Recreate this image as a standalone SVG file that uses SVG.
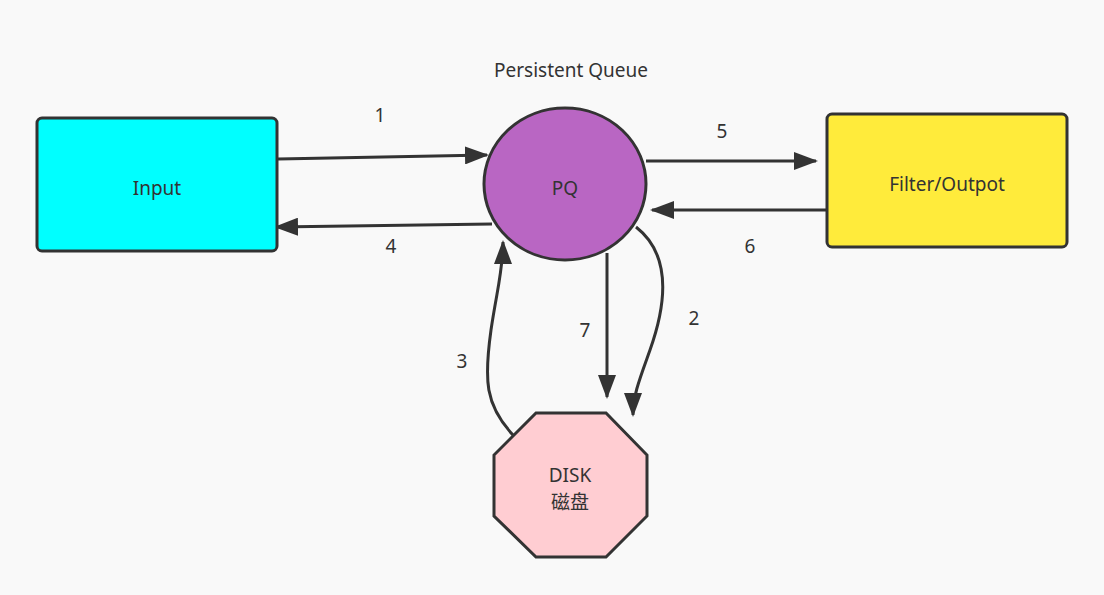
<svg xmlns="http://www.w3.org/2000/svg" width="1104" height="595" viewBox="0 0 1104 595">
<style>
.node{stroke:#333;stroke-width:3}
.lbl{font-family:"Noto Sans","Noto Sans CJK SC",sans-serif;font-size:19px;fill:#333;text-anchor:middle}
.edge{fill:none;stroke:#333;stroke-width:3;marker-end:url(#ah)}
</style>
<defs>
<marker id="ah" markerUnits="userSpaceOnUse" markerWidth="24" markerHeight="18" viewBox="0 0 24 18" refX="22" refY="9" orient="auto">
<path d="M0,0 L24,9 L0,18 Z" fill="#333"/>
</marker>
</defs>
<rect width="1104" height="595" fill="#f9f9f9"/>
<text class="lbl" x="571" y="77">Persistent Queue</text>
<g id="connectors">
<path class="edge" d="M278,159 L487,155"/>
<path class="edge" d="M492,224 L276,227"/>
<path class="edge" d="M646,161 L816,161"/>
<path class="edge" d="M827,210 L652,210"/>
<path class="edge" d="M607,253 L607,397"/>
<path class="edge" d="M636,227 C672,255 666,305 650,350 C640,378 633,395 633,415"/>
<path class="edge" d="M513,435 C485,405 484,380 491,330 C497,290 503,270 503,242"/>
<text class="lbl" x="380" y="122">1</text>
<text class="lbl" x="391" y="253">4</text>
<text class="lbl" x="722" y="138">5</text>
<text class="lbl" x="750" y="253">6</text>
<text class="lbl" x="585" y="337">7</text>
<text class="lbl" x="694" y="325">2</text>
<text class="lbl" x="462" y="368">3</text>
</g>
<g id="input">
<rect class="node" x="37" y="118" width="240" height="133" rx="5" fill="#00ffff"/>
<text class="lbl" x="157" y="195">Input</text>
</g>
<g id="pq">
<ellipse class="node" cx="565" cy="184" rx="81" ry="76" fill="#b966c3"/>
<text class="lbl" x="565" y="195">PQ</text>
</g>
<g id="filter">
<rect class="node" x="827" y="114" width="240" height="133" rx="5" fill="#ffeb3b"/>
<text class="lbl" x="947" y="191">Filter/Outpot</text>
</g>
<g id="disk">
<polygon class="node" points="536,413 606,413 647,455 647,516 606,557 536,557 494,516 494,455" fill="#ffcdd2"/>
<text class="lbl" x="570" y="482">DISK</text>
<text class="lbl" x="570" y="509">磁盘</text>
</g>
</svg>
